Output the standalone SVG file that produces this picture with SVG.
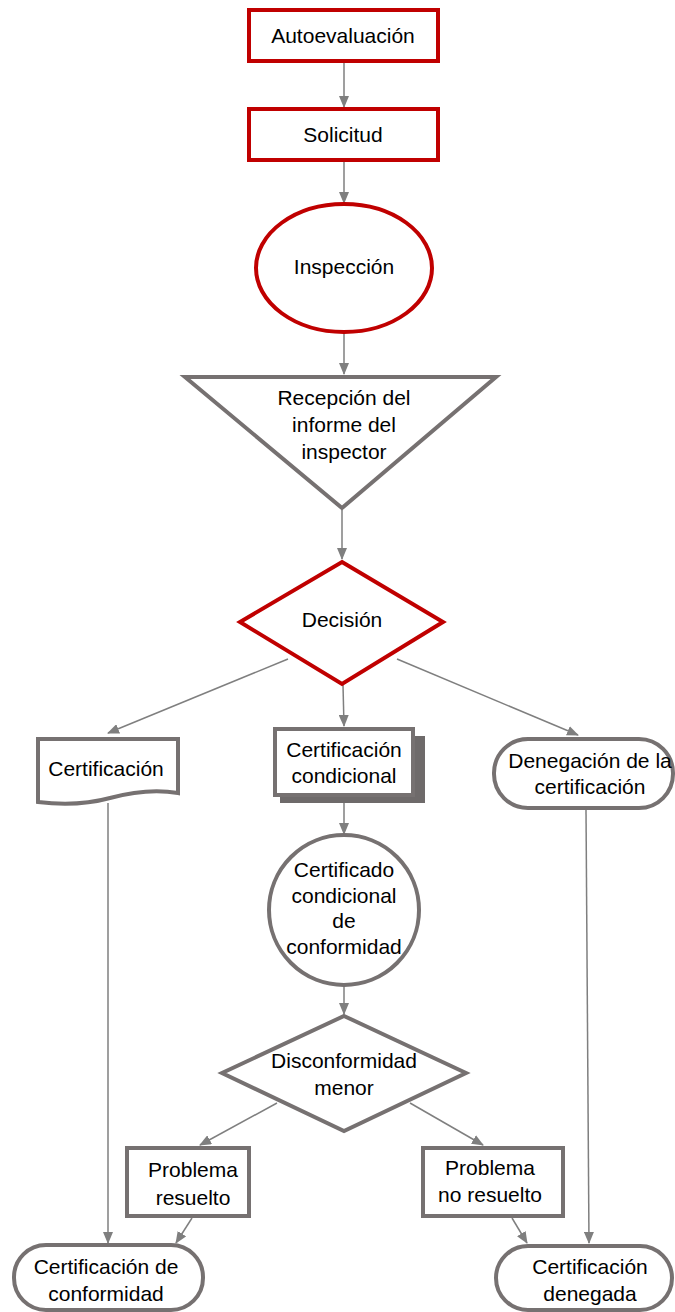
<svg xmlns="http://www.w3.org/2000/svg" width="675" height="1312" viewBox="0 0 675 1312">
<style>
text{font-family:"Liberation Sans",Arial,sans-serif;font-size:21px;fill:#000;text-anchor:middle}
.red{fill:#fff;stroke:#C00000;stroke-width:4}
.gray{fill:#fff;stroke:#767171;stroke-width:4}
.conn line{stroke:#7F7F7F;stroke-width:1.5;fill:none}
</style>
<defs>
<marker id="ah" markerUnits="userSpaceOnUse" markerWidth="12" markerHeight="10" viewBox="0 0 12 10" refX="11" refY="5" orient="auto">
<path d="M0,0 L12,5 L0,10 Z" fill="#7F7F7F"/>
</marker>
</defs>
<g class="conn">
<line x1="344" y1="62" x2="344" y2="107" marker-end="url(#ah)"/>
<line x1="344" y1="161" x2="344" y2="203" marker-end="url(#ah)"/>
<line x1="344" y1="333" x2="344" y2="374" marker-end="url(#ah)"/>
<line x1="342" y1="510" x2="342" y2="559" marker-end="url(#ah)"/>
<line x1="288" y1="659" x2="108" y2="733" marker-end="url(#ah)"/>
<line x1="343" y1="685" x2="344" y2="726" marker-end="url(#ah)"/>
<line x1="397" y1="659" x2="578" y2="735" marker-end="url(#ah)"/>
<line x1="108" y1="803" x2="108" y2="1243" marker-end="url(#ah)"/>
<line x1="344" y1="803" x2="344" y2="834" marker-end="url(#ah)"/>
<line x1="586" y1="810" x2="589" y2="1243" marker-end="url(#ah)"/>
<line x1="344" y1="986" x2="344" y2="1014" marker-end="url(#ah)"/>
<line x1="277" y1="1103" x2="200" y2="1145" marker-end="url(#ah)"/>
<line x1="410" y1="1103" x2="483" y2="1145" marker-end="url(#ah)"/>
<line x1="192" y1="1218" x2="176" y2="1243" marker-end="url(#ah)"/>
<line x1="512" y1="1218" x2="527" y2="1243" marker-end="url(#ah)"/>
</g>
<g id="autoevaluacion">
<rect class="red" x="249" y="10" width="189" height="51"/>
<text x="343" y="43">Autoevaluación</text>
</g>
<g id="solicitud">
<rect class="red" x="249" y="109" width="189" height="51"/>
<text x="343" y="142">Solicitud</text>
</g>
<g id="inspeccion">
<ellipse class="red" cx="344" cy="268" rx="88" ry="64"/>
<text x="344" y="274">Inspección</text>
</g>
<g id="recepcion">
<polygon class="gray" points="185,377 496,377 342,508"/>
<text x="344" y="405">Recepción del</text>
<text x="344" y="432">informe del</text>
<text x="344" y="459">inspector</text>
</g>
<g id="decision">
<polygon class="red" points="342,562 443,622 342,684 240,622"/>
<text x="342" y="627">Decisión</text>
</g>
<g id="certificacion">
<path class="gray" d="M38,739 H178 V793 C155,789 132,792 110,798 C88,804 62,805 38,802 Z"/>
<text x="106" y="776">Certificación</text>
</g>
<g id="cert-condicional">
<rect x="280" y="736" width="145" height="67" fill="#6E6A6A"/>
<rect class="gray" x="275" y="729" width="138" height="66"/>
<text x="344" y="757">Certificación</text>
<text x="344" y="783">condicional</text>
</g>
<g id="denegacion">
<rect class="gray" x="494" y="739" width="179" height="69" rx="34" ry="34"/>
<text x="590" y="768">Denegación de la</text>
<text x="590" y="794">certificación</text>
</g>
<g id="cert-cond-conformidad">
<circle class="gray" cx="344" cy="910" r="75"/>
<text x="344" y="877">Certificado</text>
<text x="344" y="903">condicional</text>
<text x="344" y="928">de</text>
<text x="344" y="954">conformidad</text>
</g>
<g id="disconformidad">
<polygon class="gray" points="344,1016 466,1073 344,1131 222,1073"/>
<text x="344" y="1068">Disconformidad</text>
<text x="344" y="1095">menor</text>
</g>
<g id="problema-resuelto">
<rect class="gray" x="127" y="1148" width="122" height="68"/>
<text x="193" y="1177">Problema</text>
<text x="193" y="1205">resuelto</text>
</g>
<g id="problema-no-resuelto">
<rect class="gray" x="423" y="1148" width="140" height="68"/>
<text x="490" y="1175">Problema</text>
<text x="490" y="1202">no resuelto</text>
</g>
<g id="cert-conformidad">
<rect class="gray" x="14" y="1245" width="189" height="65" rx="32" ry="32"/>
<text x="106" y="1274">Certificación de</text>
<text x="106" y="1301">conformidad</text>
</g>
<g id="cert-denegada">
<rect class="gray" x="496" y="1246" width="176" height="64" rx="32" ry="32"/>
<text x="590" y="1274">Certificación</text>
<text x="590" y="1301">denegada</text>
</g>
</svg>
